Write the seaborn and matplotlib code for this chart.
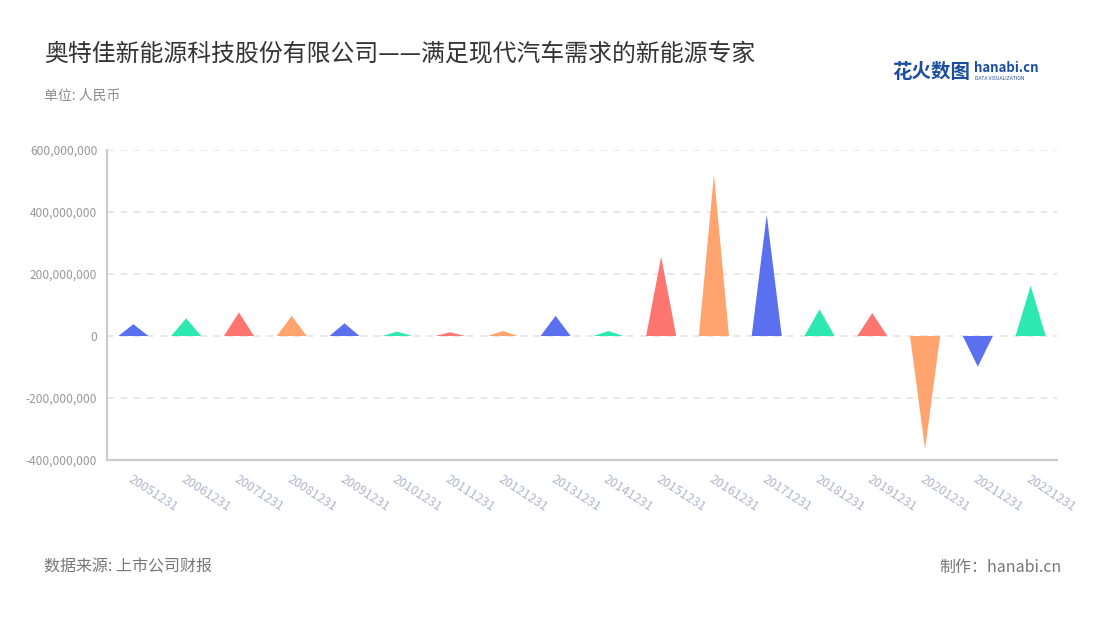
import matplotlib
matplotlib.use('Agg')
import matplotlib.pyplot as plt
from matplotlib.patches import Polygon
from matplotlib.ticker import FuncFormatter
import seaborn as sns
import pandas as pd

# Data (CNY)
dates = ['20051231', '20061231', '20071231', '20081231', '20091231', '20101231',
         '20111231', '20121231', '20131231', '20141231', '20151231', '20161231',
         '20171231', '20181231', '20191231', '20201231', '20211231', '20221231']
values = [38e6, 57e6, 76e6, 65e6, 41e6, 14e6,
          12e6, 16e6, 65e6, 16e6, 256e6, 521e6,
          391e6, 86e6, 74e6, -365e6, -99e6, 162e6]
palette = ['#5b70ee', '#2de8b0', '#ff7570', '#ffa46e']

df = pd.DataFrame({'date': dates, 'value': values})
colors = [palette[i % 4] for i in range(len(dates))]

sns.set_theme(style='white')
plt.rcParams['font.family'] = ['Noto Sans CJK SC', 'DejaVu Sans']

fig = plt.figure(figsize=(11, 6.2), dpi=100)
ax = fig.add_axes([107 / 1100, 1 - 460 / 620, 950 / 1100, 310 / 620])

sns.barplot(data=df, x='date', y='value', hue='date', palette=colors,
            width=0.57, legend=False, ax=ax)

# turn each bar into a triangle pointing to its value
for patch, c in zip(list(ax.patches), colors):
    x0 = patch.get_x()
    w = patch.get_width()
    y0 = patch.get_y()
    h = patch.get_height()
    ends = [y0, y0 + h]
    tip = max(ends) if max(ends) > 0 else min(ends)
    tri = Polygon([[x0, 0], [x0 + w, 0], [x0 + w / 2, tip]],
                  closed=True, facecolor=c, edgecolor='none', zorder=3)
    patch.remove()
    ax.add_patch(tri)

ax.set_ylim(-400e6, 600e6)
ax.set_xlim(-0.5, len(dates) - 0.5)
ax.set_yticks([-400e6, -200e6, 0, 200e6, 400e6, 600e6])
ax.yaxis.set_major_formatter(FuncFormatter(lambda v, p: f'{int(v):,}'))
ax.set_xlabel('')
ax.set_ylabel('')

for y in [-200e6, 0, 200e6, 400e6, 600e6]:
    ax.axhline(y, color='#e3e3e3', lw=1.2, ls=(0, (4, 4)), zorder=1)

for side in ['top', 'right']:
    ax.spines[side].set_visible(False)
for side in ['left', 'bottom']:
    ax.spines[side].set_color('#cccccc')
    ax.spines[side].set_linewidth(1.6)

ax.tick_params(axis='y', length=0, pad=7, labelsize=8.6, labelcolor='#999999')
ax.tick_params(axis='x', length=5, width=1, color='#cccccc', direction='out',
               pad=4, labelsize=9, labelcolor='#b0b5cc')
for lab in ax.get_xticklabels():
    lab.set_rotation(-33)
    lab.set_ha('left')
    lab.set_va('top')
    lab.set_rotation_mode('anchor')

fig.text(44 / 1100, 1 - 55 / 620, '奥特佳新能源科技股份有限公司——满足现代汽车需求的新能源专家',
         fontsize=17.2, color='#333333', va='center', ha='left')
fig.text(44 / 1100, 1 - 96 / 620, '单位: 人民币', fontsize=10, color='#8c8c8c',
         va='center', ha='left')
fig.text(44 / 1100, 1 - 567 / 620, '数据来源: 上市公司财报', fontsize=11.5, color='#777777',
         va='center', ha='left')
fig.text(1062 / 1100, 1 - 567 / 620, '制作：hanabi.cn', fontsize=11.5, color='#777777',
         va='center', ha='right')

# logo
fig.text(892 / 1100, 1 - 72 / 620, '花火数图', fontsize=14, color='#1d4e9e',
         fontweight='bold', va='center', ha='left')
fig.text(974 / 1100, 1 - 68 / 620, 'hanabi.cn', fontsize=9.5, color='#1d4e9e',
         fontweight='bold', va='center', ha='left')
fig.text(975 / 1100, 1 - 79 / 620, 'DATA VISUALIZATION', fontsize=3.6, color='#1d4e9e',
         va='center', ha='left')

fig.savefig('out.png', dpi=100, facecolor='white')
